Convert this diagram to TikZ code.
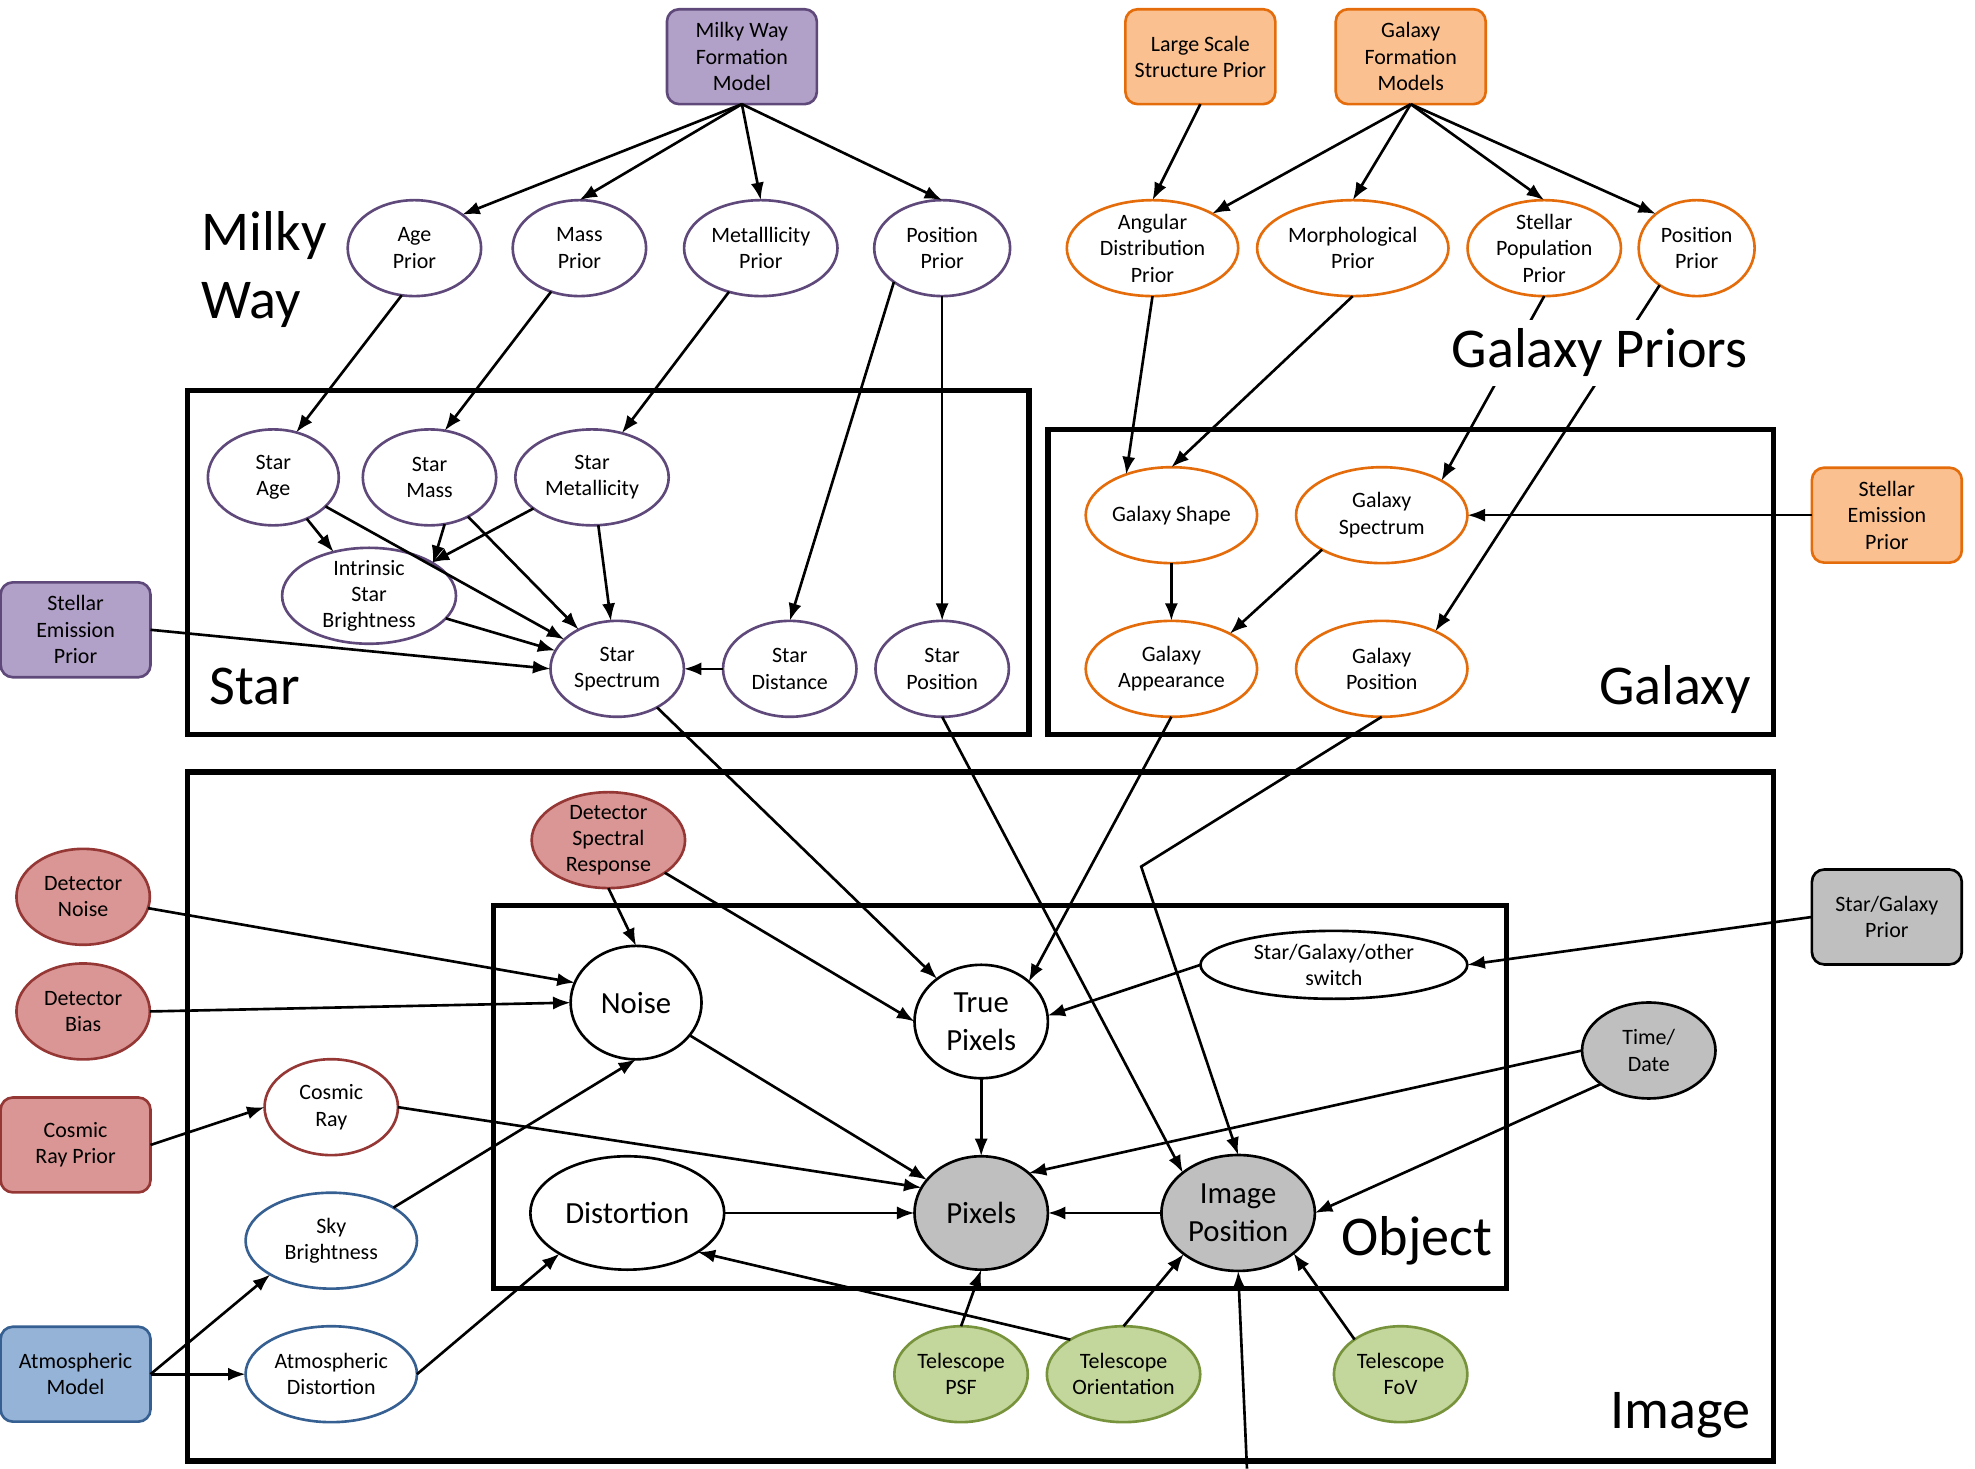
\documentclass[tikz,border=0pt]{standalone}
\usepackage{fontspec}
\setmainfont{Carlito}
\usetikzlibrary{shapes.geometric,arrows.meta}

\definecolor{mwfill}{HTML}{B1A0C7}
\definecolor{mwline}{HTML}{5F497A}
\definecolor{galfill}{HTML}{FAC090}
\definecolor{galline}{HTML}{E46C0A}
\definecolor{detfill}{HTML}{D99694}
\definecolor{detline}{HTML}{953735}
\definecolor{atmfill}{HTML}{95B3D7}
\definecolor{atmline}{HTML}{376092}
\definecolor{telfill}{HTML}{C3D69B}
\definecolor{telline}{HTML}{77933C}
\definecolor{obsfill}{HTML}{BFBFBF}

\begin{document}
\begin{tikzpicture}[x=0.0252cm, y=-0.0252cm, >={Latex[length=10pt,width=7.5pt]},
  every node/.style={font=\fontsize{12.5}{15}\selectfont, align=center},
  oval/.style={ellipse, draw, line width=1.5pt, fill=white, inner xsep=0pt, inner ysep=-6pt,
    outer sep=0pt, minimum width=2.67cm, minimum height=1.92cm},
  mwoval/.style={oval, draw=mwline},
  galoval/.style={oval, draw=galline},
  detoval/.style={oval, draw=detline, fill=detfill},
  cosoval/.style={oval, draw=detline},
  atmoval/.style={oval, draw=atmline},
  teloval/.style={oval, draw=telline, fill=telfill},
  obsoval/.style={oval, fill=obsfill},
  pixoval/.style={oval, font=\fontsize{17.5}{21.5}\selectfont, minimum height=2.27cm},
  priorbox/.style={rectangle, draw, rounded corners=7pt, line width=1.5pt, inner sep=2pt,
    outer sep=0pt, minimum width=3.0cm, minimum height=1.9cm},
  frame/.style={line width=3pt},
  link/.style={->, line width=1.5pt},
  biglabel/.style={font=\fontsize{32}{38.6}\selectfont, inner sep=0pt}]
\useasboundingbox (0,0) rectangle (1568,1166);

% plates
\draw[frame] (149,310) rectangle (817,583);
\draw[frame] (832,341) rectangle (1408,583);
\draw[frame] (149,613) rectangle (1408,1160);
\draw[frame] (392,719) rectangle (1196,1023);

\node[biglabel, anchor=west, align=left] (mwlabel) at (160,214) {Milky\\Way};
\node[biglabel, anchor=base west] (starlabel) at (166,559) {Star};
\node[biglabel, anchor=base east] (gallabel) at (1390,559) {Galaxy};
\node[biglabel, anchor=base east] (objlabel) at (1185,997) {Object};
\node[biglabel, anchor=base east] (imglabel) at (1390,1134) {Image};

% milky way
\node[priorbox, draw=mwline, fill=mwfill] (mwf) at (589,45) {Milky Way\\Formation\\Model};
\node[mwoval] (agepri) at (329,197) {Age\\Prior};
\node[mwoval] (masspri) at (460,197) {Mass\\Prior};
\node[mwoval, minimum width=3.07cm] (metpri) at (604,197) {Metalllicity\\Prior};
\node[mwoval, minimum width=2.72cm] (pospri) at (748,197) {Position\\Prior};
\node[mwoval, minimum width=2.62cm] (sage) at (217,379) {Star\\Age};
\node[mwoval] (smass) at (341,379) {Star\\Mass};
\node[mwoval, minimum width=3.07cm] (smet) at (470,379) {Star\\Metallicity};
\node[mwoval, minimum width=3.48cm] (sbright) at (293,473) {Intrinsic\\Star\\Brightness};
\node[mwoval] (sspec) at (490,531) {Star\\Spectrum};
\node[mwoval] (sdist) at (627,531) {Star\\Distance};
\node[mwoval] (spos) at (748,531) {Star\\Position};
\node[priorbox, draw=mwline, fill=mwfill] (semp) at (60,500) {Stellar\\Emission\\Prior};

% galaxy
\node[priorbox, draw=galline, fill=galfill] (lssp) at (953,45) {Large Scale\\Structure Prior};
\node[priorbox, draw=galline, fill=galfill] (gfm) at (1120,45) {Galaxy\\Formation\\Models};
\node[galoval, minimum width=3.43cm] (angpri) at (915,197) {Angular\\Distribution\\Prior};
\node[galoval, minimum width=3.83cm] (morphpri) at (1074,197) {Morphological\\Prior};
\node[galoval, minimum width=3.07cm] (stpoppri) at (1226,197) {Stellar\\Population\\Prior};
\node[galoval, minimum width=2.32cm] (gpospri) at (1347,197) {Position\\Prior};
\node[galoval, minimum width=3.43cm] (gshape) at (930,409) {Galaxy Shape};
\node[galoval, minimum width=3.43cm] (gspec) at (1097,409) {Galaxy\\Spectrum};
\node[galoval, minimum width=3.43cm] (gapp) at (930,531) {Galaxy\\Appearance};
\node[galoval, minimum width=3.43cm] (gpos) at (1097,531) {Galaxy\\Position};
\node[priorbox, draw=galline, fill=galfill] (gemp) at (1498,409) {Stellar\\Emission\\Prior};

% image
\node[detoval, minimum width=3.07cm] (dspec) at (483,667) {Detector\\Spectral\\Response};
\node[detoval] (dnoise) at (66,712) {Detector\\Noise};
\node[detoval] (dbias) at (66,803) {Detector\\Bias};
\node[priorbox, draw=detline, fill=detfill] (crprior) at (60,909) {Cosmic\\Ray Prior};
\node[cosoval] (cray) at (263,879) {Cosmic\\Ray};
\node[atmoval, minimum width=3.43cm] (skyb) at (263,985) {Sky\\Brightness};
\node[atmoval, minimum width=3.43cm] (atmdist) at (263,1091) {Atmospheric\\Distortion};
\node[priorbox, draw=atmline, fill=atmfill] (atmmod) at (60,1091) {Atmospheric\\Model};
\node[pixoval, minimum width=2.62cm] (noise) at (505,796) {Noise};
\node[pixoval] (tpix) at (779,811) {True\\Pixels};
\node[oval, minimum width=5.34cm, minimum height=1.36cm] (sgswitch) at (1059,766) {Star/Galaxy/other\\switch};
\node[pixoval, minimum width=3.88cm] (dist) at (498,963) {Distortion};
\node[pixoval, fill=obsfill] (pix) at (779,963) {Pixels};
\node[pixoval, fill=obsfill, minimum width=3.07cm, minimum height=2.32cm] (ipos) at (983,963) {Image\\Position};
\node[obsoval] (tdate) at (1309,834) {Time/\\Date};
\node[priorbox, fill=obsfill] (sgprior) at (1498,728) {Star/Galaxy\\Prior};
\node[teloval] (tpsf) at (763,1091) {Telescope\\PSF};
\node[teloval, minimum width=3.07cm] (tori) at (892,1091) {Telescope\\Orientation};
\node[teloval] (tfov) at (1112,1091) {Telescope\\FoV};

\coordinate (bend) at (906,688);
\coordinate (below) at (990,1166);

% milky way links
\draw[link] (mwf.south) -- (agepri.35);
\draw[link] (mwf.south) -- (masspri.north);
\draw[link] (mwf.south) -- (metpri.north);
\draw[link] (mwf.south) -- (pospri.north);
\draw[link] (agepri.255) -- (sage.63);
\draw[link] (masspri.237) -- (smass.72);
\draw[link] (metpri.234) -- (smet.56);
\draw[link] (pospri.215) -- (sdist.north);
\draw[link] (pospri.south) -- (spos.north);
\draw[link] (sage) -- (sbright);
\draw[link] (sage) -- (sspec);
\draw[link] (smass.288) -- (sbright.27);
\draw[link] (smass) -- (sspec);
\draw[link] (smet) -- (sbright);
\draw[link] (smet) -- (sspec);
\draw[link] (sbright) -- (sspec);
\draw[link] (semp.east) -- (sspec.west);
\draw[link] (sdist.west) -- (sspec.east);

% galaxy links
\draw[link] (lssp.south) -- (angpri.north);
\draw[link] (gfm.south) -- (angpri.30);
\draw[link] (gfm.south) -- (morphpri.north);
\draw[link] (gfm.south) -- (stpoppri.north);
\draw[link] (gfm.south) -- (gpospri.140);
\draw[link] (angpri.south) -- (gshape.138);
\draw[link] (morphpri.south) -- (gshape.north);
\draw[link] (stpoppri.south) -- (gspec.30);
\draw[link] (gpospri.225) -- (gpos.35);
\draw[link] (gshape.south) -- (gapp.north);
\draw[link] (gspec.210) -- (gapp.31);
\draw[link] (gemp.west) -- (gspec.east);

% into the image
\draw[link] (sspec) -- (tpix);
\draw[link] (spos.south) -- (ipos.144);
\draw[link] (gapp.south) -- (tpix.40);
\draw[link] (gpos.south) -- (bend) -- (ipos.north);

\draw[link] (dnoise) -- (noise.162);
\draw[link] (dbias.east) -- (noise.west);
\draw[link] (dspec.south) -- (noise.north);
\draw[link] (dspec.-30) -- (tpix.west);
\draw[link] (crprior.east) -- (cray.west);
\draw[link] (cray.east) -- (pix.157);
\draw[link] (skyb.28) -- (noise.south);
\draw[link] (atmmod.east) -- (skyb.209);
\draw[link] (atmmod.east) -- (atmdist.west);
\draw[link] (atmdist.east) -- (dist.211);
\draw[link] (noise) -- (pix);
\draw[link] (tpix.south) -- (pix.north);
\draw[link] (dist.east) -- (pix.west);
\draw[link] (sgswitch.west) -- (tpix.5);
\draw[link] (sgprior.west) -- (sgswitch.east);
\draw[link] (tdate.west) -- (pix.40);
\draw[link] (tdate.215) -- (ipos.east);
\draw[link] (ipos.west) -- (pix.east);
\draw[link] (tpsf.north) -- (pix.south);
\draw[link] (tori.north) -- (ipos.217);
\draw[link] (tori.147) -- (dist.-29);
\draw[link] (tfov.143) -- (ipos.-36);
\draw[link] (below) -- (ipos.south);

\node[biglabel, anchor=base, fill=white, inner ysep=5pt, inner xsep=2pt] (gplabel) at (1270,292) {Galaxy Priors};

\end{tikzpicture}
\end{document}
